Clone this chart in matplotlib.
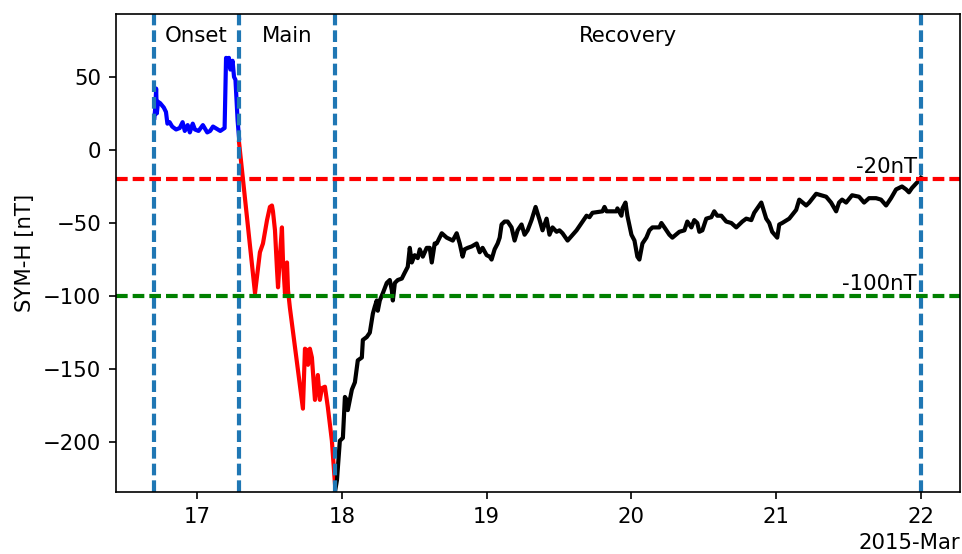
import matplotlib
matplotlib.use("Agg")
import matplotlib.pyplot as plt
import matplotlib.dates as mdates
import pandas as pd

# SYM-H index, March 2015 geomagnetic storm (time as decimal day of month, UT)
onset_day = [16.705, 16.712, 16.717, 16.722, 16.730, 16.745, 16.770, 16.785,
             16.795, 16.810, 16.828, 16.855, 16.880, 16.900, 16.915, 16.935,
             16.950, 16.970, 16.985, 17.010, 17.040, 17.070, 17.090, 17.110,
             17.160, 17.190, 17.200, 17.210, 17.220, 17.230, 17.245, 17.255,
             17.265, 17.280, 17.290]
onset_symh = [22, 30, 42, 25, 33, 32, 29, 26,
              18, 19, 16, 14, 15, 19, 13, 17,
              12, 18, 14, 13, 17, 12, 13, 16,
              13, 15, 63, 58, 63, 55, 61, 50,
              48, 20, 8]

main_day = [17.290, 17.400, 17.434, 17.455, 17.483, 17.503, 17.517, 17.524,
            17.538, 17.552, 17.559, 17.572, 17.586, 17.593, 17.607, 17.621,
            17.628, 17.641, 17.731, 17.745, 17.759, 17.766, 17.779, 17.793,
            17.814, 17.834, 17.848, 17.862, 17.883, 17.903, 17.931, 17.952]
main_symh = [5, -98, -70, -64, -48, -39, -38, -42,
             -55, -82, -94, -73, -53, -75, -98, -77,
             -96, -108, -177, -136, -137, -147, -136, -142,
             -171, -154, -171, -163, -162, -176, -199, -228]

recovery_day = [17.952, 17.966, 17.986, 18.007, 18.021, 18.034, 18.041, 18.069,
                18.090, 18.110, 18.138, 18.145, 18.172, 18.193, 18.214, 18.228,
                18.241, 18.248, 18.262, 18.283, 18.310, 18.331, 18.345, 18.352,
                18.366, 18.386, 18.414, 18.434, 18.455, 18.469, 18.483, 18.503,
                18.524, 18.538, 18.559, 18.586, 18.607, 18.621, 18.641, 18.655,
                18.690, 18.724, 18.766, 18.793, 18.814, 18.834, 18.848, 18.869,
                18.897, 18.931, 18.952, 18.972, 19.000, 19.021, 19.034, 19.055,
                19.076, 19.090, 19.103, 19.124, 19.145, 19.172, 19.193, 19.214,
                19.241, 19.262, 19.283, 19.310, 19.338, 19.366, 19.386, 19.414,
                19.434, 19.455, 19.483, 19.503, 19.524, 19.559, 19.621, 19.690,
                19.710, 19.731, 19.800, 19.814, 19.828, 19.897, 19.903, 19.931,
                19.938, 19.959, 19.972, 20.000, 20.021, 20.041, 20.055, 20.076,
                20.103, 20.124, 20.145, 20.193, 20.207, 20.228, 20.262, 20.283,
                20.331, 20.366, 20.386, 20.414, 20.434, 20.455, 20.469, 20.490,
                20.517, 20.552, 20.572, 20.593, 20.621, 20.655, 20.690, 20.724,
                20.766, 20.793, 20.828, 20.848, 20.897, 20.931, 20.952, 20.972,
                21.007, 21.021, 21.041, 21.090, 21.138, 21.159, 21.207, 21.228,
                21.276, 21.310, 21.345, 21.379, 21.414, 21.434, 21.455, 21.483,
                21.524, 21.572, 21.607, 21.641, 21.690, 21.724, 21.759, 21.793,
                21.828, 21.869, 21.897, 21.917, 21.938, 21.966, 21.986, 22.000]
recovery_symh = [-234, -226, -199, -197, -169, -171, -178, -164,
                 -159, -144, -142, -130, -128, -125, -112, -107,
                 -103, -110, -103, -98, -91, -89, -96, -103,
                 -91, -89, -88, -84, -80, -67, -77, -72,
                 -74, -68, -73, -67, -67, -77, -64, -64,
                 -57, -60, -62, -57, -64, -73, -68, -67,
                 -66, -64, -70, -67, -72, -73, -75, -68,
                 -64, -60, -51, -49, -49, -53, -62, -55,
                 -51, -58, -55, -48, -39, -48, -55, -47,
                 -58, -53, -56, -55, -57, -62, -55, -45,
                 -46, -43, -42, -39, -42, -42, -40, -45,
                 -40, -36, -45, -58, -62, -73, -75, -64,
                 -60, -55, -53, -53, -50, -53, -58, -60,
                 -56, -55, -49, -53, -48, -50, -56, -55,
                 -47, -46, -42, -45, -45, -49, -50, -53,
                 -49, -47, -48, -43, -36, -47, -50, -56,
                 -60, -51, -50, -47, -41, -34, -38, -36,
                 -30, -31, -32, -36, -42, -36, -34, -36,
                 -31, -32, -36, -33, -33, -34, -38, -33,
                 -27, -25, -27, -29, -26, -23, -21, -19]

phase_bounds = [16.70, 17.29, 17.95, 22.00]
phase_names = ["Onset", "Main", "Recovery"]
thresholds = [-20, -100]
threshold_labels = ["-20nT", "-100nT"]
threshold_colors = ["r", "g"]

month_start = pd.Timestamp("2015-03-01")


def to_time(days):
    return [month_start + pd.Timedelta(days=d - 1) for d in days]


plt.rcParams["font.size"] = 10.2

fig = plt.figure(figsize=(962 / 150, 554 / 150), dpi=150)
ax = fig.add_axes([0.1206, 0.112, 0.8774, 0.8627])

ax.plot(to_time(onset_day), onset_symh, color="b", lw=2)
ax.plot(to_time(main_day), main_symh, color="r", lw=2)
ax.plot(to_time(recovery_day), recovery_symh, color="k", lw=2)

dash = (0, (2.8, 1.2))
for b in to_time(phase_bounds):
    ax.axvline(b, color="C0", ls=dash, lw=2)

for val, col in zip(thresholds, threshold_colors):
    ax.axhline(val, color=col, ls=dash, lw=2)

label_x = to_time([21.97])[0]
ax.text(label_x, -20 + 1.5, threshold_labels[0], ha="right", va="bottom")
ax.text(label_x, -100 + 1.5, threshold_labels[1], ha="right", va="bottom")

mids = [(phase_bounds[i] + phase_bounds[i + 1]) / 2 for i in range(3)]
for m, name in zip(to_time(mids), phase_names):
    ax.text(m, 78, name, ha="center", va="center")

ax.set_xlim(to_time([16.44])[0], to_time([22.27])[0])
ax.set_ylim(-234, 93)
ax.set_yticks([50, 0, -50, -100, -150, -200])

loc = mdates.DayLocator()
ax.xaxis.set_major_locator(loc)
ax.xaxis.set_major_formatter(mdates.ConciseDateFormatter(loc))

ax.set_ylabel("SYM-H [nT]")

fig.savefig("out.png", dpi=150)
